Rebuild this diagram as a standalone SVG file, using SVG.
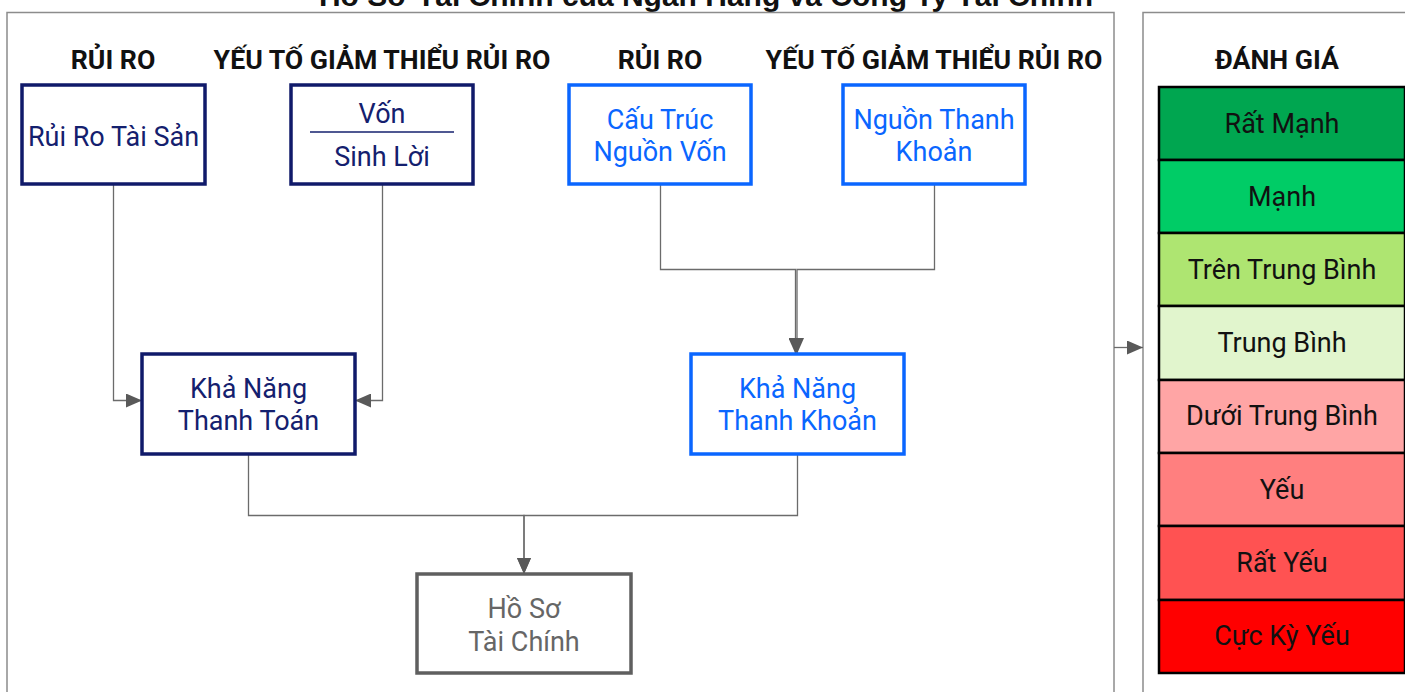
<svg xmlns="http://www.w3.org/2000/svg" width="1405" height="692" viewBox="0 0 1405 692">
<defs>
<marker id="ah" viewBox="0 0 16 14" refX="16" refY="7" markerWidth="16" markerHeight="14" markerUnits="userSpaceOnUse" orient="auto">
<path d="M0,0 L16,7 L0,14 Z" fill="#595959"/>
</marker>
<style>
.frame{fill:none;stroke:#8c8c8c;stroke-width:1.5}
.hdr{font-family:Roboto,"Liberation Sans",sans-serif;font-weight:bold;font-size:26.7px;fill:#111;text-anchor:middle}
.title{font-family:"Liberation Sans",Arial,sans-serif;font-weight:bold;font-size:30px;fill:#111;text-anchor:middle}
.nv{fill:#fff;stroke:#101a6a;stroke-width:3.5}
.bl{fill:#fff;stroke:#0a66ff;stroke-width:3.5}
.gr{fill:#fff;stroke:#5f5f5f;stroke-width:3.5}
.t{font-family:Roboto,"Liberation Sans",sans-serif;font-size:27px;text-anchor:middle}
.tnv{fill:#14206e}
.tbl{fill:#0a66ff}
.tgr{fill:#666}
.conn path{fill:none;stroke:#6b6b6b;stroke-width:1.3}
.rt rect{stroke:#000;stroke-width:2.5}
.rt text{font-family:Roboto,"Liberation Sans",sans-serif;font-size:27px;fill:#111;text-anchor:middle}
</style>
</defs>
<rect width="1405" height="692" fill="#fff"/>
<text class="title" x="706" y="6">Hồ Sơ Tài Chính của Ngân Hàng và Công Ty Tài Chính</text>
<rect class="frame" x="7" y="12.5" width="1107" height="690"/>
<rect class="frame" x="1143" y="12.5" width="280" height="690"/>

<g id="headers">
<text class="hdr" x="113" y="69">RỦI RO</text>
<text class="hdr" x="382" y="69">YẾU TỐ GIẢM THIỂU RỦI RO</text>
<text class="hdr" x="660" y="69">RỦI RO</text>
<text class="hdr" x="934" y="69">YẾU TỐ GIẢM THIỂU RỦI RO</text>
<text class="hdr" x="1277" y="69">ĐÁNH GIÁ</text>
</g>

<g class="conn" id="connectors">
<path d="M113.5,184 V400.5 H142" marker-end="url(#ah)"/>
<path d="M382.5,184 V400.5 H355" marker-end="url(#ah)"/>
<path d="M660.5,184 V269.5 H795.5 V354" marker-end="url(#ah)"/>
<path d="M934.5,184 V269.5 H797 V354" marker-end="url(#ah)"/>
<path d="M248.5,454 V515.5 H524 V574" marker-end="url(#ah)"/>
<path d="M797.5,454 V515.5 H524 V574" marker-end="url(#ah)"/>
<path d="M1114,347.5 H1143" marker-end="url(#ah)"/>
</g>

<g id="n-ruirotaisan">
<rect class="nv" x="22" y="85" width="183" height="99"/>
<text class="t tnv" x="113.5" y="146">Rủi Ro Tài Sản</text>
</g>
<g id="n-vonsinhloi">
<rect class="nv" x="291" y="85" width="182" height="99"/>
<line x1="310" y1="132" x2="454" y2="132" stroke="#14206e" stroke-width="1.3"/>
<text class="t tnv" x="382" y="123">Vốn</text>
<text class="t tnv" x="382" y="166">Sinh Lời</text>
</g>
<g id="n-cautruc">
<rect class="bl" x="569" y="85" width="182" height="99"/>
<text class="t tbl" x="660" y="129">Cấu Trúc</text>
<text class="t tbl" x="660" y="161">Nguồn Vốn</text>
</g>
<g id="n-nguonthanhkhoan">
<rect class="bl" x="843" y="85" width="182" height="99"/>
<text class="t tbl" x="934" y="129">Nguồn Thanh</text>
<text class="t tbl" x="934" y="161">Khoản</text>
</g>
<g id="n-khanangthanhtoan">
<rect class="nv" x="142" y="354" width="213" height="100"/>
<text class="t tnv" x="248.5" y="398">Khả Năng</text>
<text class="t tnv" x="248.5" y="430">Thanh Toán</text>
</g>
<g id="n-khanangthanhkhoan">
<rect class="bl" x="691" y="354" width="213" height="100"/>
<text class="t tbl" x="797.5" y="398">Khả Năng</text>
<text class="t tbl" x="797.5" y="430">Thanh Khoản</text>
</g>
<g id="n-hoso">
<rect class="gr" x="417" y="574" width="214" height="99"/>
<text class="t tgr" x="524" y="618">Hồ Sơ</text>
<text class="t tgr" x="524" y="651">Tài Chính</text>
</g>

<g id="ratings" class="rt">
<rect x="1159" y="87" width="246" height="73" fill="#00a650"/>
<text x="1282" y="133">Rất Mạnh</text>
<rect x="1159" y="160" width="246" height="73" fill="#00cc66"/>
<text x="1282" y="206">Mạnh</text>
<rect x="1159" y="233" width="246" height="73" fill="#aee571"/>
<text x="1282" y="279">Trên Trung Bình</text>
<rect x="1159" y="306" width="246" height="74" fill="#e1f5cd"/>
<text x="1282" y="352">Trung Bình</text>
<rect x="1159" y="380" width="246" height="73" fill="#ffa5a5"/>
<text x="1282" y="425">Dưới Trung Bình</text>
<rect x="1159" y="453" width="246" height="73" fill="#ff7f7f"/>
<text x="1282" y="499">Yếu</text>
<rect x="1159" y="526" width="246" height="74" fill="#ff5252"/>
<text x="1282" y="572">Rất Yếu</text>
<rect x="1159" y="600" width="246" height="73" fill="#ff0000"/>
<text x="1282" y="645">Cực Kỳ Yếu</text>
</g>
</svg>
